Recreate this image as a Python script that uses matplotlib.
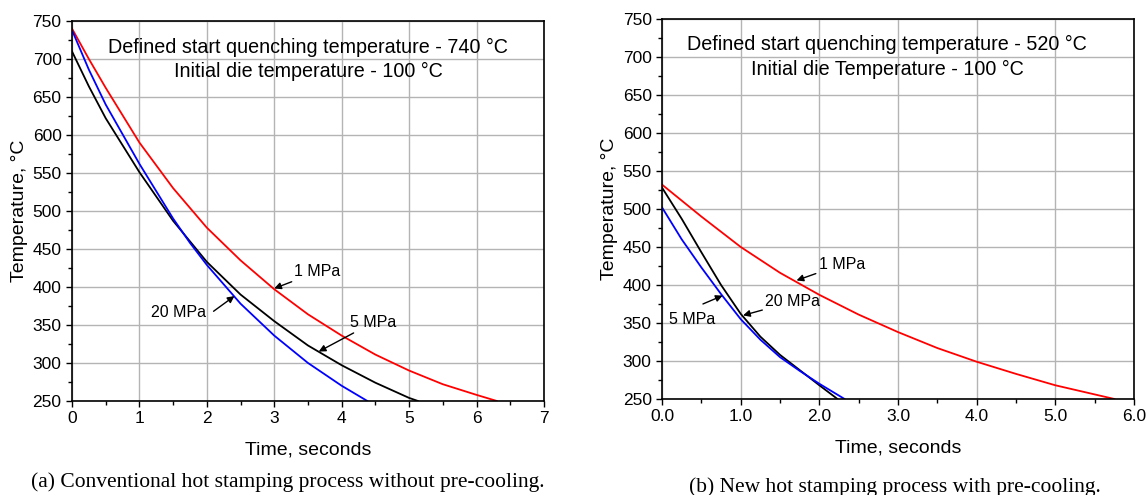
import matplotlib

matplotlib.use("Agg")
import matplotlib.pyplot as plt
from matplotlib.ticker import MultipleLocator

plt.rcParams["font.family"] = ["Liberation Sans", "DejaVu Sans"]

# (a) conventional process, 740 C start
t_a_1 = [0, 0.25, 0.5, 1, 1.5, 2, 2.5, 3, 3.5, 4, 4.5, 5, 5.5, 6, 6.3]
T_a_1 = [740, 700, 662, 590, 530, 478, 435, 397, 364, 336, 311, 290, 272, 258, 250]
t_a_5 = [0, 0.25, 0.5, 1, 1.5, 2, 2.5, 3, 3.5, 4, 4.5, 5, 5.13]
T_a_5 = [710, 664, 622, 551, 487, 433, 390, 355, 323, 297, 274, 254, 250]
t_a_20 = [0, 0.25, 0.5, 1, 1.5, 1.75, 2, 2.5, 3, 3.5, 4, 4.38]
T_a_20 = [738, 686, 640, 562, 490, 458, 429, 378, 336, 300, 270, 250]

# (b) new process with pre-cooling, 520 C start
t_b_1 = [0, 0.5, 1, 1.5, 2, 2.5, 3, 3.5, 4, 4.5, 5, 5.5, 5.75]
T_b_1 = [532, 490, 450, 416, 387, 361, 338, 317, 299, 283, 268, 256, 250]
t_b_20 = [0, 0.25, 0.5, 0.75, 1, 1.25, 1.5, 1.75, 2, 2.23]
T_b_20 = [528, 487, 443, 400, 362, 332, 308, 288, 268, 250]
t_b_5 = [0, 0.25, 0.5, 0.75, 1, 1.25, 1.5, 1.75, 2, 2.32]
T_b_5 = [502, 460, 423, 388, 355, 328, 305, 287, 270, 250]

fig = plt.figure(figsize=(11.48, 4.95), dpi=100)
ax1 = fig.add_axes([0.0627, 0.19, 0.4111, 0.7677])
ax2 = fig.add_axes([0.5767, 0.194, 0.4111, 0.7677])

arrow = dict(arrowstyle="-|>", color="black", lw=1, mutation_scale=10,
             shrinkA=0, shrinkB=0)


def style(ax, xmax, xmajor, fmt):
    ax.set_xlim(0, xmax)
    ax.set_ylim(250, 750)
    ax.xaxis.set_major_locator(MultipleLocator(xmajor))
    ax.xaxis.set_minor_locator(MultipleLocator(xmajor / 2))
    ax.yaxis.set_major_locator(MultipleLocator(50))
    ax.yaxis.set_minor_locator(MultipleLocator(25))
    ax.xaxis.set_major_formatter(fmt)
    ax.grid(True, which="major", color="#b4b4b4", lw=1)
    ax.set_axisbelow(True)
    ax.tick_params(which="major", direction="out", length=4, width=1,
                   labelsize=12.5, colors="black")
    ax.tick_params(which="minor", direction="out", length=3, width=1)
    for s in ax.spines.values():
        s.set_linewidth(1.2)
    ax.set_xlabel("Time, seconds", fontsize=14, labelpad=11)
    ax.set_ylabel("Temperature, °C", fontsize=14, labelpad=3)


style(ax1, 7, 1, "{x:.0f}")
ax1.plot(t_a_1, T_a_1, color="red", lw=1.3)
ax1.plot(t_a_5, T_a_5, color="black", lw=1.3)
ax1.plot(t_a_20, T_a_20, color="blue", lw=1.3)
ax1.text(3.5, 715, "Defined start quenching temperature - 740 °C",
         ha="center", va="center", fontsize=14.2)
ax1.text(3.5, 683, "Initial die temperature - 100 °C",
         ha="center", va="center", fontsize=14.2)
ax1.annotate("1 MPa", xy=(3.0, 398), xytext=(3.3, 420), fontsize=11.5,
             va="center", arrowprops=arrow)
ax1.text(1.17, 367, "20 MPa", fontsize=11.5, va="center")
ax1.annotate("", xy=(2.41, 388), xytext=(2.10, 368), arrowprops=arrow)
ax1.annotate("5 MPa", xy=(3.66, 315), xytext=(4.12, 353), fontsize=11.5,
             va="center", arrowprops=arrow)

style(ax2, 6, 1, "{x:.1f}")
ax2.plot(t_b_1, T_b_1, color="red", lw=1.3)
ax2.plot(t_b_20, T_b_20, color="black", lw=1.3)
ax2.plot(t_b_5, T_b_5, color="blue", lw=1.3)
ax2.text(2.86, 716, "Defined start quenching temperature - 520 °C",
         ha="center", va="center", fontsize=14.2)
ax2.text(2.86, 684, "Initial die Temperature - 100 °C",
         ha="center", va="center", fontsize=14.2)
ax2.annotate("1 MPa", xy=(1.71, 406), xytext=(1.99, 427), fontsize=11.5,
             va="center", arrowprops=arrow)
ax2.annotate("20 MPa", xy=(1.03, 360), xytext=(1.31, 378), fontsize=11.5,
             va="center", arrowprops=arrow)
ax2.text(0.09, 355, "5 MPa", fontsize=11.5, va="center")
ax2.annotate("", xy=(0.77, 386), xytext=(0.52, 375), arrowprops=arrow)

fig.text(288 / 1148, 1 - 482 / 495,
         "(a) Conventional hot stamping process without pre-cooling.",
         ha="center", va="center", fontsize=15.5, family="Liberation Serif")
fig.text(895 / 1148, 1 - 487 / 495,
         "(b) New hot stamping process with pre-cooling.",
         ha="center", va="center", fontsize=15.5, family="Liberation Serif")

fig.savefig("out.png", dpi=100)
